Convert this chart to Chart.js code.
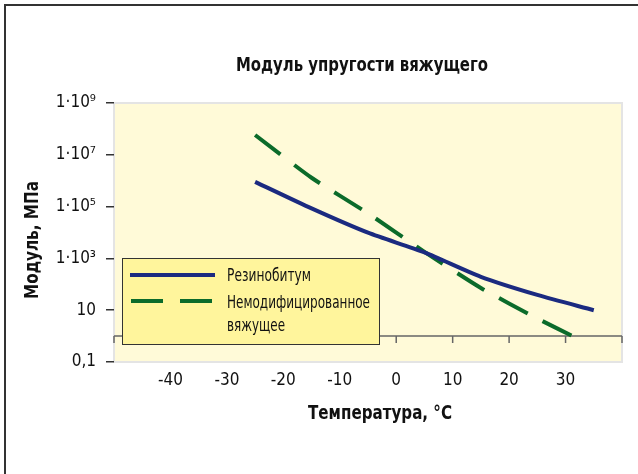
<!DOCTYPE html>
<html>
<head>
<meta charset="utf-8">
<script src="https://cdn.jsdelivr.net/npm/chart.js@4.4.1/dist/chart.umd.min.js"></script>
<style>
  html, body { margin: 0; padding: 0; background: #fff; }
  #wrap { width: 638px; height: 474px; }
</style>
</head>
<body>
<div id="wrap"><canvas id="chart" width="638" height="474"></canvas></div>
<script>
// --- данные ---
const rubberTemps = [-25, -15, -5, 5, 15, 25, 35];
const rubberModulus = [9e5, 8.5e4, 9.8e3, 1.7e3, 195, 39, 10];
const plainTemps = [-25, -15, -5, 5, 15, 25, 32];
const plainModulus = [5.8e7, 1.3e6, 5.5e4, 1.8e3, 72, 4.8, 0.83];

const yTicks = [0.1, 10, 1e3, 1e5, 1e7, 1e9];
const yTickLabels = ['0,1', '10', '1·10³', '1·10⁵', '1·10⁷', '1·10⁹'];
const xTickLabels = [-40, -30, -20, -10, 0, 10, 20, 30];

const seriesNames = ['Резинобитум', ['Немодифицированное', 'вяжущее']];
const chartTitle = 'Модуль упругости вяжущего';
const xTitle = 'Температура, °C';
const yTitle = 'Модуль, МПа';

const FONT = "'Liberation Sans Narrow', 'DejaVu Sans Condensed', sans-serif";
const BLUE = '#1b2a80';
const GREEN = '#0b6b2a';

function toPoints(xs, ys) {
    return xs.map((x, i) => ({ x: x, y: ys[i] }));
}

// фон области, рамка, ось при y=1, подписи и легенда
const decorPlugin = {
    id: 'decor',
    beforeDraw(chart) {
        const ctx = chart.ctx;
        const a = chart.chartArea;
        ctx.save();
        ctx.fillStyle = '#fffad8';
        ctx.fillRect(a.left, a.top, a.right - a.left, a.bottom - a.top);
        ctx.strokeStyle = '#e4e4e4';
        ctx.lineWidth = 2;
        ctx.strokeRect(a.left, a.top, a.right - a.left, a.bottom - a.top);

        // рамка рисунка
        ctx.strokeStyle = '#333';
        ctx.lineWidth = 2;
        ctx.beginPath();
        ctx.moveTo(5, 474);
        ctx.lineTo(5, 5);
        ctx.lineTo(638, 5);
        ctx.stroke();

        // заголовок и подписи осей
        ctx.fillStyle = '#111';
        ctx.textAlign = 'center';
        ctx.textBaseline = 'middle';
        ctx.font = 'bold 19px ' + FONT;
        ctx.fillText(chartTitle, 362, 66, 252);
        ctx.fillText(xTitle, 380, 414, 144);
        ctx.translate(33, 240);
        ctx.rotate(-Math.PI / 2);
        ctx.fillText(yTitle, 0, 0, 118);
        ctx.restore();
    },
    beforeDatasetsDraw(chart) {
        const ctx = chart.ctx;
        const xs = chart.scales.x;
        const y1 = chart.scales.y.getPixelForValue(1);
        ctx.save();
        ctx.strokeStyle = '#666';
        ctx.lineWidth = 1.5;
        ctx.beginPath();
        ctx.moveTo(chart.chartArea.left, y1);
        ctx.lineTo(chart.chartArea.right, y1);
        for (let v = -50; v <= 40; v += 10) {
            const px = xs.getPixelForValue(v);
            ctx.moveTo(px, y1);
            ctx.lineTo(px, y1 + 7);
        }
        ctx.stroke();
        ctx.restore();
    },
    afterDatasetsDraw(chart) {
        const ctx = chart.ctx;
        const x0 = 122, y0 = 258, w = 257, h = 86;
        ctx.save();
        ctx.fillStyle = '#fff59c';
        ctx.fillRect(x0, y0, w, h);
        ctx.strokeStyle = '#333';
        ctx.lineWidth = 1;
        ctx.strokeRect(x0 + 0.5, y0 + 0.5, w, h);

        const sets = chart.data.datasets;
        ctx.lineWidth = 4;
        ctx.strokeStyle = sets[0].borderColor;
        ctx.beginPath();
        ctx.moveTo(130, 275);
        ctx.lineTo(215, 275);
        ctx.stroke();

        ctx.strokeStyle = sets[1].borderColor;
        ctx.beginPath();
        ctx.moveTo(131, 301);
        ctx.lineTo(163, 301);
        ctx.moveTo(180, 301);
        ctx.lineTo(212, 301);
        ctx.stroke();

        ctx.fillStyle = '#111';
        ctx.font = '17px ' + FONT;
        ctx.textAlign = 'left';
        ctx.textBaseline = 'middle';
        ctx.fillText(seriesNames[0], 227, 277, 84);
        ctx.fillText(seriesNames[1][0], 227, 304, 143);
        ctx.fillText(seriesNames[1][1], 227, 327, 58);
        ctx.restore();
    }
};

new Chart(document.getElementById('chart').getContext('2d'), {
    type: 'line',
    data: {
        datasets: [{
            label: seriesNames[0],
            data: toPoints(rubberTemps, rubberModulus),
            borderColor: BLUE,
            borderWidth: 4,
            pointRadius: 0,
            tension: 0.25,
            fill: false
        }, {
            label: seriesNames[1].join(' '),
            data: toPoints(plainTemps, plainModulus),
            borderColor: GREEN,
            borderWidth: 4,
            borderDash: [32, 17],
            pointRadius: 0,
            tension: 0.2,
            fill: false
        }]
    },
    options: {
        responsive: false,
        animation: false,
        layout: { padding: { top: 103, right: 16, bottom: 82, left: 0 } },
        plugins: {
            legend: { display: false },
            title: { display: false },
            tooltip: { enabled: false }
        },
        scales: {
            x: {
                type: 'linear',
                min: -50,
                max: 40,
                grid: { display: false, drawTicks: false },
                border: { display: false },
                afterBuildTicks: s => { s.ticks = xTickLabels.map(v => ({ value: v })); },
                afterFit: s => { s.height = 30; },
                ticks: {
                    padding: 8,
                    color: '#111',
                    font: { family: FONT, size: 17 },
                    callback: v => String(v)
                }
            },
            y: {
                type: 'logarithmic',
                min: 0.1,
                max: 1e9,
                afterBuildTicks: s => { s.ticks = yTicks.map(v => ({ value: v })); },
                afterFit: s => { s.width = 114; },
                grid: {
                    drawOnChartArea: false,
                    drawTicks: true,
                    tickLength: 8,
                    color: '#333',
                    lineWidth: 1.5
                },
                border: { display: false },
                ticks: {
                    padding: 10,
                    color: '#111',
                    font: { family: FONT, size: 17 },
                    callback: v => {
                        const i = yTicks.indexOf(v);
                        return i >= 0 ? yTickLabels[i] : '';
                    }
                }
            }
        }
    },
    plugins: [decorPlugin]
});
</script>
</body>
</html>
